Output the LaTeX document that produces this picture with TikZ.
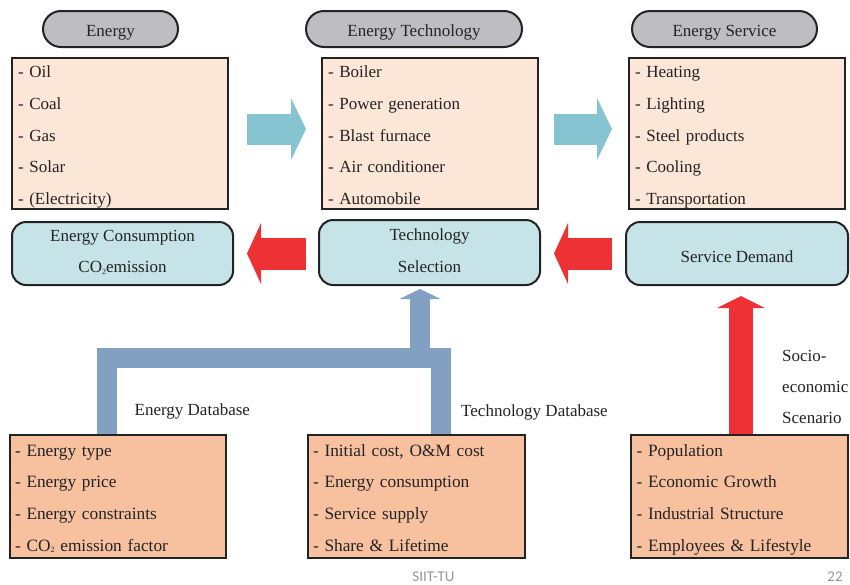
\documentclass[tikz,border=0pt]{standalone}
\usepackage{fontspec}
\setmainfont{Liberation Serif}
\newfontfamily\footfont{Carlito}
\usetikzlibrary{arrows.meta}

\definecolor{headgray}{RGB}{190,190,194}
\definecolor{listpink}{RGB}{252,230,215}
\definecolor{selteal}{RGB}{198,227,232}
\definecolor{flowteal}{RGB}{134,196,210}
\definecolor{flowred}{RGB}{238,49,53}
\definecolor{dbblue}{RGB}{130,161,194}
\definecolor{datasalmon}{RGB}{247,193,159}
\definecolor{inkgray}{RGB}{35,35,35}
\definecolor{footgray}{RGB}{150,150,150}

\newcommand{\topstrut}[1]{\rule{0pt}{#1}}
\newcommand{\botstrut}{\rule[-4pt]{0pt}{4pt}}
\newcommand{\smalltwo}{\raisebox{-1.5pt}{\fontsize{8}{8}\selectfont 2}}

\tikzset{
  header/.style={draw=inkgray, line width=2pt, fill=headgray, rounded corners=18pt,
    minimum height=36pt, inner sep=0pt, text=inkgray, font=\fontsize{17}{20}\selectfont,
    execute at begin node={\topstrut{19.5pt}}, execute at end node={\botstrut}},
  listbox/.style={draw=inkgray, line width=2pt, fill=listpink, minimum width=216pt,
    minimum height=151pt, text width=204pt, inner xsep=6pt, inner ysep=0pt, align=left,
    text=inkgray, font=\fontsize{17}{31.75}\selectfont,
    execute at begin node={\topstrut{19pt}}, execute at end node={\botstrut}},
  resultbox/.style={draw=inkgray, line width=2pt, fill=selteal, rounded corners=14pt,
    minimum width=221pt, minimum height=63pt, inner sep=0pt, align=center,
    text=inkgray, font=\fontsize{17}{31.5}\selectfont,
    execute at begin node={\topstrut{21pt}}, execute at end node={\botstrut}},
  databox/.style={draw=inkgray, line width=2pt, fill=datasalmon, minimum width=216pt,
    minimum height=123pt, text width=206pt, inner xsep=5pt, inner ysep=0pt, align=left,
    text=inkgray, font=\fontsize{17.3}{31.7}\selectfont,
    execute at begin node={\topstrut{19.5pt}}, execute at end node={\botstrut}},
  sidelabel/.style={anchor=base west, inner sep=0pt, text=inkgray,
    font=\fontsize{17}{20}\selectfont},
  fwdarrow/.style={draw=flowteal, line width=31pt,
    -{Triangle[length=15pt, width=62pt, line width=0pt]}},
  backarrow/.style={draw=flowred, line width=32pt,
    -{Triangle[length=14pt, width=61pt, line width=0pt]}},
  dbline/.style={draw=dbblue, line width=20pt, line join=miter},
  footer/.style={anchor=base, text=footgray, inner sep=0pt, font=\footfont\fontsize{15}{17}\selectfont}
}

\begin{document}
\begin{tikzpicture}[x=1pt, y=-1pt]
\useasboundingbox[fill=white] (0,0) rectangle (850,584);

% column headers
\node[header, minimum width=135pt] (hEnergy) at (110.5,29) {Energy};
\node[header, minimum width=216pt] (hTech) at (414,29) {Energy Technology};
\node[header, minimum width=185pt] (hServ) at (724.5,29) {Energy Service};

% item lists
\node[listbox] (lEnergy) at (120,133.5)
  {- Oil\\- Coal\\- Gas\\- Solar\\- (Electricity)};
\node[listbox] (lTech) at (430,133.5)
  {- Boiler\\- Power generation\\- Blast furnace\\- Air conditioner\\- Automobile};
\node[listbox] (lServ) at (737,133.5)
  {- Heating\\- Lighting\\- Steel products\\- Cooling\\- Transportation};

% model results
\node[resultbox] (cons) at (122.5,253.5)
  {Energy Consumption\\CO\smalltwo emission};
\node[resultbox, minimum height=65pt] (sel) at (429.5,252.5) {Technology\\Selection};
\node[resultbox, minimum width=222pt] (dem) at (737,253.5) {Service Demand};

% input data
\node[databox] (edb) at (118,496)
  {- Energy type\\- Energy price\\- Energy constraints\\- CO\smalltwo\ emission factor};
\node[databox, minimum width=217pt] (tdb) at (416,496)
  {- Initial cost, O\&M cost\\- Energy consumption\\- Service supply\\- Share \& Lifetime};
\node[databox, minimum width=217pt] (scen) at (739.5,496)
  {- Population\\- Economic Growth\\- Industrial Structure\\- Employees \& Lifestyle};

% flows
\draw[fwdarrow, shorten <=18pt, shorten >=15pt] ([yshift=4.5pt]lEnergy.east) -- ([yshift=4.5pt]lTech.west);
\draw[fwdarrow, shorten <=15pt, shorten >=16pt] ([yshift=4.5pt]lTech.east) -- ([yshift=4.5pt]lServ.west);
\draw[backarrow, shorten <=12pt, shorten >=13pt] (sel.west |- cons.east) -- (cons.east);
\draw[backarrow, shorten <=13pt, shorten >=13pt] (dem.west) -- (sel.east |- dem.west);

% databases feeding selection
\coordinate (dbjoin) at (420,358);
\draw[dbline] ([xshift=-11pt]edb.north) |- ([xshift=25pt]tdb.north |- dbjoin) -- ([xshift=25pt]tdb.north);
\draw[dbline, -{Triangle[length=10pt, width=41pt, line width=0pt]}, shorten >=3pt] (dbjoin) -- (dbjoin |- sel.south);
\draw[draw=flowred, line width=24pt, -{Triangle[length=12pt, width=48pt, line width=0pt]}, shorten >=10pt]
  ([xshift=1.5pt]scen.north) -- ([xshift=1.5pt]scen.north |- dem.south);

\node[sidelabel] (edbl) at (134.5,415.5) {Energy Database};
\node[sidelabel] (tdbl) at (461,416) {Technology Database};
\node[sidelabel] (soc1) at (782,361) {Socio-};
\node[sidelabel] (soc2) at (782,392.5) {economic};
\node[sidelabel] (soc3) at (782,423.5) {Scenario};

% footer
\node[footer] (org) at (433.5,581.5) {SIIT-TU};
\node[footer] (page) at (835,581.5) {22};
\end{tikzpicture}
\end{document}
